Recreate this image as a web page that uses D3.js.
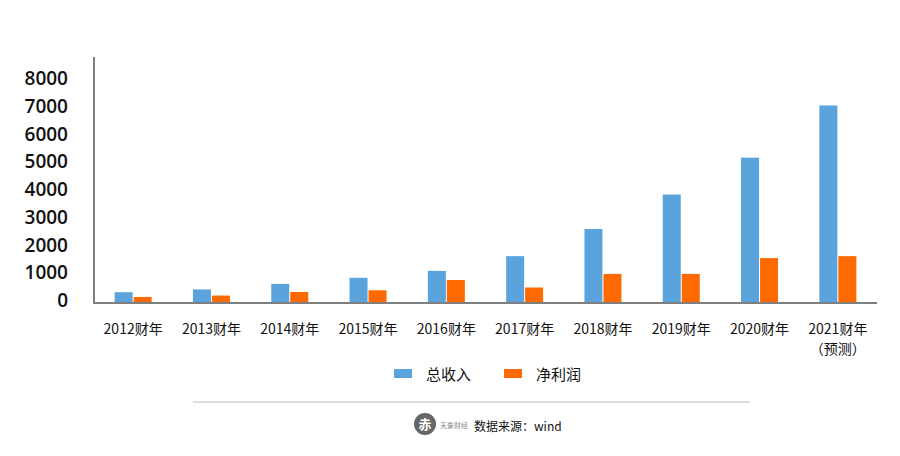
<!DOCTYPE html>
<html><head><meta charset="utf-8">
<script src="https://cdn.jsdelivr.net/npm/d3@7"></script>
<style>body{margin:0;background:#fff}</style></head>
<body><svg id="c" width="900" height="456"></svg>
<script>
const categories = ["2012财年","2013财年","2014财年","2015财年","2016财年","2017财年","2018财年","2019财年","2020财年","2021财年"];
const revenue = [280, 380, 580, 800, 1050, 1580, 2560, 3800, 5130, 7010];
const profit = [110, 160, 290, 350, 720, 450, 940, 940, 1510, 1580];
const yTicks = [0,1000,2000,3000,4000,5000,6000,7000,8000];
const seriesNames = ["总收入","净利润"];
const colors = ["#5ba3dd","#ff6a00"];

const svg = d3.select("#c");
const font = "'Noto Sans CJK SC', 'Open Sans', sans-serif";
const x = d3.scaleBand().domain(categories).range([94, 877]);
const y = d3.scaleLinear().domain([0, 8000]).range([300, 78]);
const bw = 18;

svg.append("line").attr("x1",94).attr("x2",94).attr("y1",57).attr("y2",303).attr("stroke","#7f7f7f").attr("stroke-width",2);
svg.append("line").attr("x1",93).attr("x2",877).attr("y1",303).attr("y2",303).attr("stroke","#7f7f7f").attr("stroke-width",2);

svg.selectAll(".yt").data(yTicks).enter().append("text")
 .attr("x",68).attr("y",d=>y(d)+7).attr("text-anchor","end")
 .attr("font-family","'Open Sans', sans-serif").attr("font-size",19).attr("font-weight",600).attr("fill","#111")
 .text(d=>d);

const g = svg.append("g");
[revenue, profit].forEach((arr, si) => {
  g.selectAll(".b"+si).data(arr).enter().append("rect")
   .attr("x",(d,i)=>x(categories[i])+x.bandwidth()/2 - bw - 0.5 + si*(bw+1))
   .attr("y",d=>y(d)).attr("width",bw).attr("height",d=>302-y(d)).attr("fill",colors[si]);
});

categories.forEach((c,i)=>{
  const t = svg.append("text").attr("x",x(c)+x.bandwidth()/2).attr("y",334).attr("text-anchor","middle")
   .attr("font-family",font).attr("font-size",14).attr("fill","#111").text(c);
  if(i===categories.length-1){
    svg.append("text").attr("x",x(c)+x.bandwidth()/2).attr("y",354).attr("text-anchor","middle")
     .attr("font-family",font).attr("font-size",14).attr("fill","#111").text("（预测）");
  }
});

const lx=[394,504];
seriesNames.forEach((n,i)=>{
  svg.append("rect").attr("x",lx[i]).attr("y",369).attr("width",18).attr("height",9).attr("fill",colors[i]);
  svg.append("text").attr("x",lx[i]+32).attr("y",380).attr("font-family",font).attr("font-size",15).attr("fill","#111").text(n);
});
svg.append("line").attr("x1",193).attr("x2",750).attr("y1",402).attr("y2",402).attr("stroke","#bbb").attr("stroke-width",1.2);
svg.append("circle").attr("cx",425).attr("cy",424).attr("r",11).attr("fill","#666");
svg.append("text").attr("x",425).attr("y",429).attr("text-anchor","middle").attr("font-family",font).attr("font-size",13).attr("font-weight",700).attr("fill","#fff").text("赤");
svg.append("text").attr("x",440).attr("y",428).attr("font-family",font).attr("font-size",7).attr("fill","#888").text("天象财经");
svg.append("text").attr("x",474).attr("y",431).attr("font-family",font).attr("font-size",12).attr("fill","#111").text("数据来源：wind");
</script></body></html>
